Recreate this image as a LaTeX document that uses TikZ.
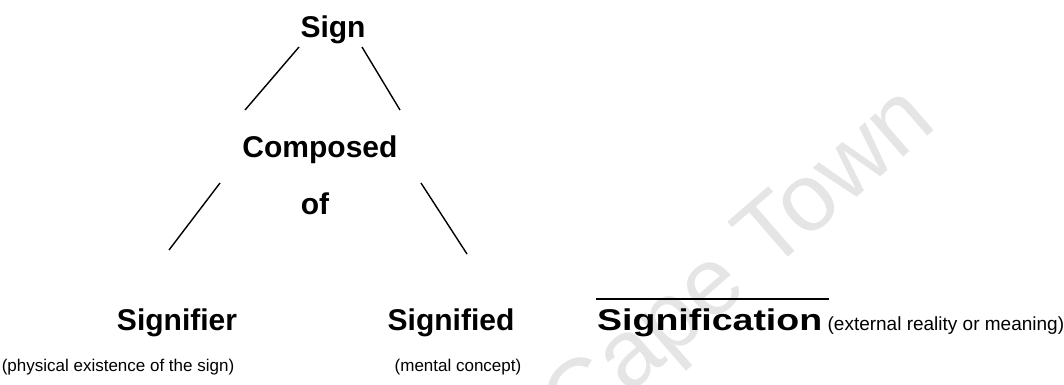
\documentclass[tikz,border=0pt]{standalone}
\usepackage{fontspec}
\setmainfont{Liberation Sans}
\usetikzlibrary{positioning}

\begin{document}
\begin{tikzpicture}[x=1pt,y=-1pt,
    term/.style={font=\bfseries\fontsize{30}{32}\selectfont, inner sep=0pt, anchor=base},
    note/.style={font=\fontsize{17}{19}\selectfont, inner sep=0pt, anchor=base},
    leg/.style={black, line width=1.4pt}]
     \useasboundingbox (0,0) rectangle (1064,384);
     % watermark
     \node[font=\fontsize{96}{96}\selectfont, text=black!10, rotate=41, inner sep=0pt] (mark) at (742,266) {Cape Town};
     % words
     \node[term] (sign) at (333,37) {Sign};
     \node[term] (composed) at (320,157) {Composed};
     \node[term] (of) at (315,214) {of};
     \node[term] (signifier) at (177,330) {Signifier};
     \node[term] (signified) at (451,330) {Signified};
     \node[term, anchor=base west] (signification) at (597,330) {\scalebox{1.25}[1]{Signification}};
     \node[note, font=\fontsize{19}{21}\selectfont, right=5pt of signification.base east, anchor=base west] (external) {(external reality or meaning)};
     \node[note] (physical) at (118,371) {(physical existence of the sign)};
     \node[note] (mental) at (458,371) {(mental concept)};
     % legs
     \coordinate (s1) at (299,47);  \coordinate (s2) at (245,110);
     \coordinate (s3) at (362,47);  \coordinate (s4) at (400,110);
     \coordinate (c1) at (220,183); \coordinate (c2) at (169,250);
     \coordinate (c3) at (421,183); \coordinate (c4) at (467,254);
     \coordinate (o1) at (596,299); \coordinate (o2) at (829,299);
     \draw[leg] (s1) -- (s2);
     \draw[leg] (s3) -- (s4);
     \draw[leg] (c1) -- (c2);
     \draw[leg] (c3) -- (c4);
     \draw[black, line width=1.2pt] (o1) -- (o2);
\end{tikzpicture}
\end{document}
